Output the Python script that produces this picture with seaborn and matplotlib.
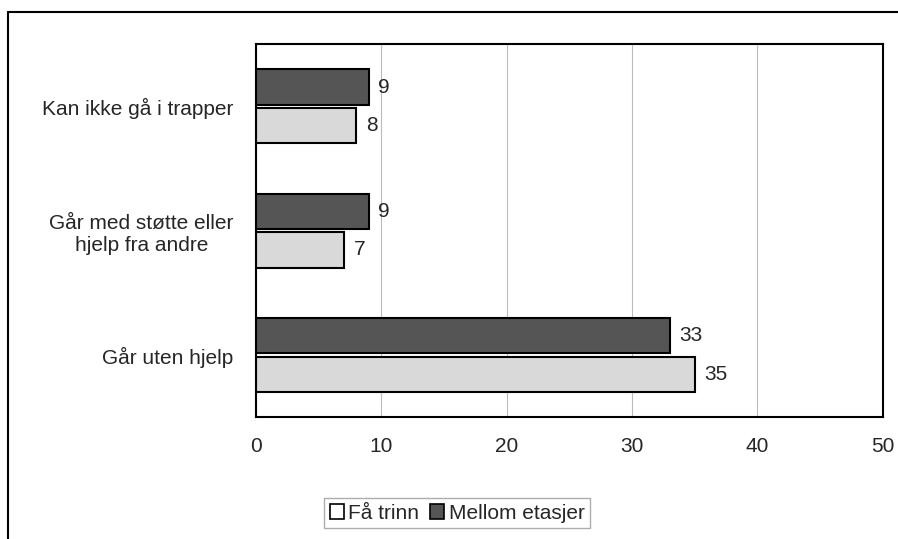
import pandas as pd
import matplotlib.pyplot as plt
import seaborn as sns
from matplotlib.patches import Patch
from matplotlib.lines import Line2D

categories = ['Kan ikke gå i trapper', 'Går med støtte eller\nhjelp fra andre', 'Går uten hjelp']
mellom_etasjer = [9, 9, 33]
faa_trinn = [8, 7, 35]
series_names = ['Få trinn', 'Mellom etasjer']
xticks = [0, 10, 20, 30, 40, 50]

df = pd.DataFrame({
    'Kategori': categories * 2,
    'Verdi': mellom_etasjer + faa_trinn,
    'Serie': ['Mellom etasjer'] * 3 + ['Få trinn'] * 3,
})

sns.set_style('white')
plt.rcParams['font.family'] = ['Liberation Sans', 'DejaVu Sans']

colors = {'Mellom etasjer': '#555555', 'Få trinn': '#d9d9d9'}
fs = 15

fig = plt.figure(figsize=(8.98, 5.39), dpi=100)
ax = fig.add_axes([0.285, 0.226, 0.698, 0.692])

sns.barplot(data=df, y='Kategori', x='Verdi', hue='Serie',
            hue_order=['Mellom etasjer', 'Få trinn'], order=categories,
            palette=colors, width=0.62, gap=0.08, orient='h', ax=ax,
            edgecolor='black', linewidth=1.5, legend=False)

for cont in ax.containers:
    ax.bar_label(cont, padding=7, fontsize=fs)

ax.set_xlim(0, 50)
ax.set_xticks(xticks)
ax.set_xlabel('')
ax.set_ylabel('')
ax.grid(axis='x', color='#bbbbbb', linewidth=0.8)
ax.set_axisbelow(True)
for s in ax.spines.values():
    s.set_visible(True)
    s.set_color('black')
    s.set_linewidth(1.5)
ax.tick_params(axis='x', length=0, labelsize=fs, pad=14)
ax.tick_params(axis='y', length=0, labelsize=fs, pad=16)
ax.set_yticks([0.5, 1.5], minor=True)
ax.tick_params(axis='y', which='minor', length=5, direction='out', color='#777777')
for lbl in ax.get_yticklabels():
    lbl.set_multialignment('center')

handles = [Patch(facecolor='white', edgecolor='black', linewidth=1.2),
           Patch(facecolor='#555555', edgecolor='black', linewidth=1.2)]
leg = fig.legend(handles, series_names, loc='center', bbox_to_anchor=(0.509, 0.048),
                 ncol=2, frameon=True, fancybox=False, fontsize=fs,
                 handlelength=0.7, handleheight=0.7, handletextpad=0.2,
                 columnspacing=0.5, borderpad=0.25)
leg.get_frame().set_edgecolor('#999999')
leg.get_frame().set_linewidth(1.0)

# outer chart frame
fig.add_artist(Line2D([0.009, 1.0], [0.978, 0.978], color='black', linewidth=1.5, transform=fig.transFigure))
fig.add_artist(Line2D([0.009, 0.009], [0.0, 0.978], color='black', linewidth=1.5, transform=fig.transFigure))

fig.savefig('out.png', dpi=100)
